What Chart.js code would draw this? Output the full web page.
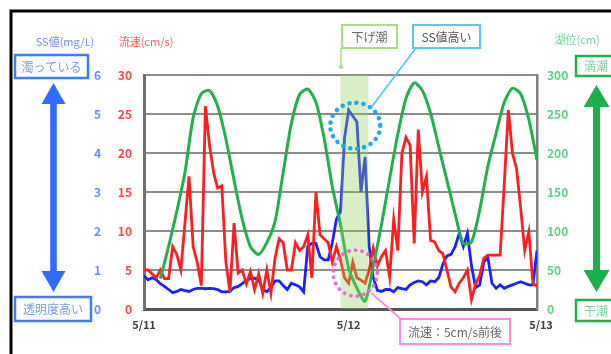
<!DOCTYPE html>
<html><head><meta charset="utf-8">
<script src="https://cdn.jsdelivr.net/npm/chart.js@4"></script>
<style>html,body{margin:0;padding:0;background:#fff}canvas{display:block}</style>
</head><body>
<canvas id="c" width="611" height="354"></canvas>
<script>
// ---- data ----
const dateLabels = ["5/11", "5/12", "5/13"];
const dateTickHours = [0, 25, 48];
const stepHours = 0.5; // flow & SS sampled every 30 min from 5/11 0:00
const flowSpeed = [5,5,4.5,4,5,3.9,3.9,8,7,5,
 11,17,8,6,3,26,21,17.5,15.5,15.8,
 6,2.2,11,4.6,5,3.2,4.8,2.5,4.5,2,
 5,2,6.5,9,8.5,5,5,8.5,7.5,8,
 9.5,4,15,9.5,9,8.5,6,8,6.3,4,
 3.3,6,4,3.7,3.3,5,7.8,5.5,6.7,7.5,
 4.1,11.5,7.5,20,22,21,8.4,23,15,17,
 8.8,8.6,7.5,7.1,5,2.8,2.2,3.3,4,5,
 1.2,3.2,4.3,6.5,6.9,6.9,6.9,6.9,16,25.5,
 20,18,13,7.5,9.9,3.3,2.9];
const ssValue = [0.85,0.75,0.8,0.75,0.65,0.58,0.5,0.42,0.45,0.5,
 0.47,0.45,0.5,0.53,0.53,0.52,0.53,0.52,0.5,0.44,
 0.44,0.45,0.55,0.58,0.65,0.74,0.78,0.79,0.75,0.5,
 0.44,0.55,0.72,0.72,0.6,0.5,0.66,0.62,0.57,0.44,
 1.6,1.68,1.68,1.34,1.26,1.26,1.7,2.3,2.5,4.4,
 5.1,4.95,4.8,3.0,3.9,1.6,0.8,0.48,0.45,0.5,
 0.5,0.44,0.55,0.52,0.5,0.62,0.68,0.72,0.7,0.62,
 0.72,0.7,0.8,1.15,1.36,1.4,1.6,1.94,1.6,1.94,
 1.1,0.55,0.62,1.2,1.32,0.66,0.53,0.62,0.53,0.58,
 0.62,0.66,0.7,0.66,0.62,0.62,1.5];
const tideHours = [2,3,4,5,6,7,8,9,10,11,12,13,14,15,16,17,18,19,20,21,22,23,24,25,
 26,27,28,29,30,31,32,33,34,35,36,37,38,39,40,41,42,43,44,45,46,47,48];
const tideLevel = [39,80,125,175,245,276,280,260,218,165,115,80,70,85,112,175,238,275,282,265,219,157,108,52,
 27,10,55,108,167,224,270,290,280,251,208,165,122,84,86,127,183,225,265,283,276,243,191];
// annotation anchors (data coordinates)
const ebbStartHour = 24, ebbEndHour = 27.4;
const ssHighHour = 25.8, ssHighValue = 4.7;
const flowLowHour = 25.8, flowLowValue = 4.6;

const pts = (arr) => arr.map((v, i) => ({x: i * stepHours, y: v}));
const tidePts = tideHours.map((h, i) => ({x: h, y: tideLevel[i]}));

const FONT = "'Noto Sans CJK JP','Noto Sans',sans-serif";
Chart.defaults.font.family = FONT;

function vArrow(ctx, x, yTop, yBot, color, hw, hh, sw){
  ctx.fillStyle = color;
  ctx.beginPath();
  ctx.moveTo(x, yTop); ctx.lineTo(x+hw, yTop+hh); ctx.lineTo(x+sw, yTop+hh);
  ctx.lineTo(x+sw, yBot-hh); ctx.lineTo(x+hw, yBot-hh); ctx.lineTo(x, yBot);
  ctx.lineTo(x-hw, yBot-hh); ctx.lineTo(x-sw, yBot-hh); ctx.lineTo(x-sw, yTop+hh);
  ctx.lineTo(x-hw, yTop+hh); ctx.closePath(); ctx.fill();
}
function box(ctx, x, y, w, h, stroke, text, color, lw){
  ctx.lineWidth = lw || 2; ctx.strokeStyle = stroke;
  ctx.strokeRect(x, y, w, h);
  ctx.fillStyle = color; ctx.font = "12px " + FONT;
  ctx.textAlign = 'center'; ctx.textBaseline = 'middle';
  ctx.fillText(text, x + w/2, y + h/2 + 0.5);
}
function dotEllipse(ctx, cx, cy, rx, ry, color, lw, gap){
  ctx.save();
  ctx.strokeStyle = color; ctx.lineWidth = lw; ctx.lineCap = 'round';
  ctx.setLineDash([0.1, gap]);
  ctx.beginPath(); ctx.ellipse(cx, cy, rx, ry, 0, 0, Math.PI*2); ctx.stroke();
  ctx.restore();
}

const overlay = {
  id: 'overlay',
  afterDatasetsDraw(chart){
    const ctx = chart.ctx, a = chart.chartArea, x = chart.scales.x;
    const x0 = x.getPixelForValue(ebbStartHour), x1 = x.getPixelForValue(ebbEndHour);
    ctx.save();
    ctx.fillStyle = 'rgba(143,208,90,0.35)';
    ctx.fillRect(x0, a.top, x1 - x0, a.bottom - a.top);
    ctx.restore();
  },
  afterDraw(chart){
    const ctx = chart.ctx, x = chart.scales.x, a = chart.chartArea;
    ctx.save();
    // outer frame
    ctx.strokeStyle = '#000'; ctx.lineWidth = 3;
    ctx.beginPath(); ctx.moveTo(11, 354); ctx.lineTo(11, 11); ctx.lineTo(611, 11); ctx.stroke();
    // date labels on the x axis
    ctx.font = "bold 11px " + FONT; ctx.textAlign = 'center'; ctx.textBaseline = 'middle';
    ctx.fillStyle = '#404040';
    dateTickHours.forEach((h, i) => ctx.fillText(dateLabels[i], x.getPixelForValue(h) + (i === 2 ? 4 : 0), a.bottom + 16));
    // axis titles
    ctx.font = "11px " + FONT;
    ctx.fillStyle = '#6f8fff'; ctx.fillText('SS値(mg/L)', 65, 42);
    ctx.fillStyle = '#ff5a5a'; ctx.fillText('流速(cm/s)', 146, 42);
    ctx.fillStyle = '#7dd39a'; ctx.fillText('湖位(cm)', 577, 40);
    // left legend boxes + arrow
    box(ctx, 15, 55, 73, 23, '#3f7bff', '濁っている', '#7a96f0', 2.5);
    box(ctx, 15, 297, 76, 24, '#3f7bff', '透明度高い', '#7a96f0', 2.5);
    vArrow(ctx, 53.5, 83, 292, '#2f6cff', 12, 21, 3.3);
    // right legend boxes + arrow
    box(ctx, 576, 56, 40, 20, '#22b04a', '満潮', '#7dd39a', 2.5);
    box(ctx, 576, 300, 40, 21, '#22b04a', '干潮', '#7dd39a', 2.5);
    vArrow(ctx, 596.5, 85, 292, '#1fae4c', 13, 22, 3.5);
    // ebb tide annotation
    box(ctx, 342, 25, 55, 23, '#a6e07a', '下げ潮', '#666', 2);
    ctx.strokeStyle = '#a6e07a'; ctx.lineWidth = 1.5;
    ctx.beginPath(); ctx.moveTo(341, 48); ctx.lineTo(341, 67); ctx.stroke();
    ctx.fillStyle = '#a6e07a'; ctx.beginPath(); ctx.arc(341, 67, 2, 0, Math.PI*2); ctx.fill();
    // SS high annotation
    const sx = x.getPixelForValue(ssHighHour), sy = chart.scales.ySS.getPixelForValue(ssHighValue);
    box(ctx, 413, 25, 67, 23, '#55c8f5', 'SS値高い', '#555', 2);
    ctx.strokeStyle = '#55c8f5'; ctx.lineWidth = 1.8;
    ctx.beginPath(); ctx.moveTo(416, 48); ctx.lineTo(sx + 15, sy - 17); ctx.stroke();
    dotEllipse(ctx, sx, sy, 25, 23, '#1fa8f2', 4.5, 7);
    // flow low annotation
    const fx = x.getPixelForValue(flowLowHour), fy = chart.scales.yFlow.getPixelForValue(flowLowValue);
    dotEllipse(ctx, fx, fy, 22, 23, '#f266d6', 3.8, 6.5);
    ctx.strokeStyle = '#f78ad9'; ctx.lineWidth = 1.8;
    ctx.beginPath(); ctx.moveTo(fx + 16, fy + 20); ctx.lineTo(401, 319); ctx.stroke();
    box(ctx, 400, 319, 110, 25, '#ff8ae0', '流速：5cm/s前後', '#666', 2);
    ctx.restore();
  }
};

new Chart(document.getElementById('c'), {
  type: 'line',
  data: {
    datasets: [
      {label: '湖位', data: tidePts, yAxisID: 'yTide', borderColor: '#22b04a', borderWidth: 3, pointRadius: 0, tension: 0.25, order: 0},
      {label: '流速', data: pts(flowSpeed), yAxisID: 'yFlow', borderColor: '#ff1e1e', borderWidth: 2.8, pointRadius: 0, tension: 0, order: 1},
      {label: 'SS値', data: pts(ssValue), yAxisID: 'ySS', borderColor: '#1c22ff', borderWidth: 2.8, pointRadius: 0, tension: 0, order: 2}
    ]
  },
  options: {
    responsive: false, animation: false,
    layout: {padding: {left: 94, right: 34, top: 75, bottom: 25}},
    plugins: {legend: {display: false}, tooltip: {enabled: false}},
    scales: {
      x: {
        type: 'linear', position: 'bottom', min: 0, max: 48,
        afterBuildTicks(s){ s.ticks = dateTickHours.map(v => ({value: v})); },
        afterFit(s){ s.height = 20; },
        ticks: {display: false},
        grid: {display: false},
        border: {display: true, color: '#555', width: 3}
      },
      ySS: {
        position: 'left', min: 0, max: 6, weight: 10,
        afterFit(s){ s.width = 20; },
        ticks: {stepSize: 1, color: '#6a8cff', font: {size: 12, weight: 'bold'}, padding: 13},
        grid: {display: false, drawTicks: false},
        border: {display: false}
      },
      yFlow: {
        position: 'left', min: 0, max: 30, weight: 5,
        afterFit(s){ s.width = 30; },
        ticks: {stepSize: 5, color: '#ff4444', font: {size: 12, weight: 'bold'}, padding: 12},
        grid: {color: '#8c8c8c', lineWidth: 2, drawTicks: false},
        border: {display: true, color: '#707070', width: 3}
      },
      yTide: {
        position: 'right', min: 0, max: 300,
        afterFit(s){ s.width = 40; },
        ticks: {stepSize: 50, color: '#5ccf88', font: {size: 12, weight: 'bold'}, padding: 10},
        grid: {display: false, drawTicks: false},
        border: {display: true, color: '#808080', width: 2.5}
      }
    }
  },
  plugins: [overlay]
});
</script>
</body></html>
